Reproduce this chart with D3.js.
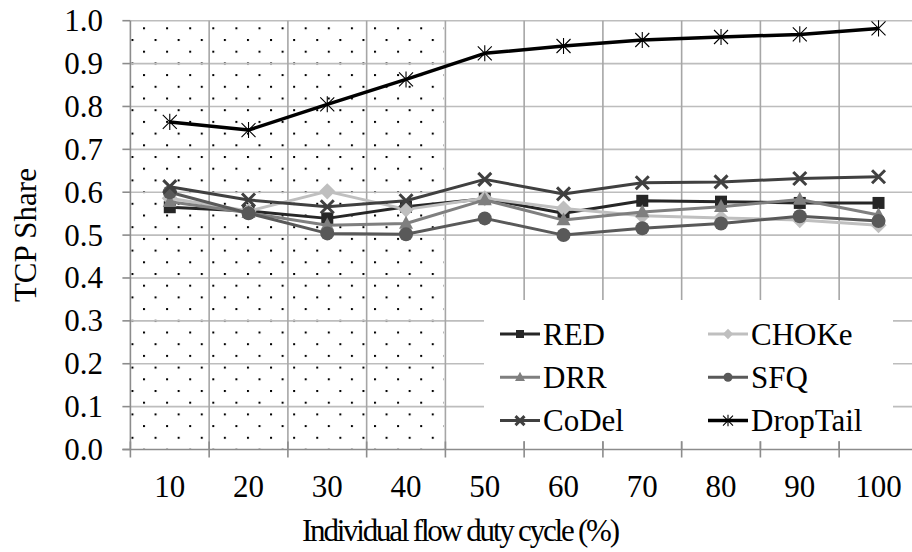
<!DOCTYPE html>
<html>
<head>
<meta charset="utf-8">
<script src="https://cdn.jsdelivr.net/npm/d3@7"></script>
<style>
html,body{margin:0;padding:0;background:#fff;}
svg{display:block;}
</style>
</head>
<body>
<svg id="chart" width="912" height="552"></svg>
<script>
// ---- data ----
const categories = [10, 20, 30, 40, 50, 60, 70, 80, 90, 100];
const RED      = [0.565, 0.556, 0.539, 0.566, 0.585, 0.551, 0.580, 0.578, 0.575, 0.575];
const CHOKe    = [0.586, 0.556, 0.602, 0.560, 0.586, 0.562, 0.545, 0.540, 0.535, 0.523];
const DRR      = [0.578, 0.552, 0.523, 0.527, 0.582, 0.535, 0.554, 0.566, 0.583, 0.547];
const SFQ      = [0.600, 0.551, 0.504, 0.502, 0.539, 0.500, 0.516, 0.527, 0.544, 0.533];
const CoDel    = [0.613, 0.582, 0.566, 0.580, 0.630, 0.596, 0.622, 0.624, 0.632, 0.636];
const DropTail = [0.764, 0.745, 0.805, 0.863, 0.924, 0.941, 0.955, 0.962, 0.968, 0.982];
const yTicks = [0, 0.1, 0.2, 0.3, 0.4, 0.5, 0.6, 0.7, 0.8, 0.9, 1.0];
const shadedCategories = [10, 20, 30, 40];
const yTitle = "TCP Share";
const xTitle = "Individual flow duty cycle (%)";

const series = [
  {name: "RED",      values: RED,      color: "#262626", marker: "square",   width: 3},
  {name: "CHOKe",    values: CHOKe,    color: "#bfbfbf", marker: "diamond",  width: 3},
  {name: "DRR",      values: DRR,      color: "#7f7f7f", marker: "triangle", width: 3},
  {name: "SFQ",      values: SFQ,      color: "#595959", marker: "circle",   width: 3},
  {name: "CoDel",    values: CoDel,    color: "#404040", marker: "x",        width: 3},
  {name: "DropTail", values: DropTail, color: "#000000", marker: "star",     width: 3.5}
];

// ---- layout ----
const FAMILY = '"Liberation Serif"';
const svg = d3.select("#chart");
const pLeft = 130.4, pTop = 20.7, pBottom = 449.5, step = 78.75;
const x = d3.scaleBand().domain(categories).range([pLeft, pLeft + step * categories.length]).padding(0);
const y = d3.scaleLinear().domain([0, 1]).range([pBottom, pTop]);
const FONT = 31;
function txt(sel) { return sel.style("font-family", FAMILY).attr("font-size", FONT).attr("fill", "#000"); }

// dotted pattern
const defs = svg.append("defs");
const pw = 23.1, ph = 23.4;
const pat = defs.append("pattern").attr("id", "dots").attr("patternUnits", "userSpaceOnUse")
  .attr("x", 143).attr("y", 27.3).attr("width", pw).attr("height", ph);
pat.append("rect").attr("x", 0).attr("y", 0).attr("width", 2).attr("height", 2).attr("fill", "#000");
pat.append("rect").attr("x", pw / 2).attr("y", ph / 2).attr("width", 2).attr("height", 2).attr("fill", "#000");

const sx0 = x(shadedCategories[0]);
const sx1 = x(shadedCategories[shadedCategories.length - 1]) + x.bandwidth();
svg.append("rect").attr("x", sx0).attr("y", y(1)).attr("width", sx1 - sx0 - 2).attr("height", y(0) - y(1) - 1)
  .attr("fill", "url(#dots)");

// gridlines
const grid = svg.append("g");
grid.selectAll("line.h").data(yTicks.slice(1)).join("line")
  .attr("x1", pLeft).attr("x2", 912).attr("y1", d => y(d)).attr("y2", d => y(d))
  .attr("stroke", "#bdbdbd").attr("stroke-width", 1.6);
grid.selectAll("line.v").data(categories.slice(1)).join("line")
  .attr("x1", d => x(d)).attr("x2", d => x(d)).attr("y1", y(1)).attr("y2", y(0))
  .attr("stroke", "#a6a6a6").attr("stroke-width", 1.6);

// axes
const axisColor = "#8c8c8c";
svg.append("line").attr("x1", pLeft).attr("x2", pLeft).attr("y1", y(1)).attr("y2", y(0))
  .attr("stroke", axisColor).attr("stroke-width", 1.6);
svg.append("line").attr("x1", pLeft - 8).attr("x2", 912).attr("y1", y(0)).attr("y2", y(0))
  .attr("stroke", axisColor).attr("stroke-width", 1.6);
svg.selectAll("line.yt").data(yTicks).join("line")
  .attr("x1", pLeft - 8).attr("x2", pLeft).attr("y1", d => y(d)).attr("y2", d => y(d))
  .attr("stroke", axisColor).attr("stroke-width", 1.6);
const xBounds = categories.map(c => x(c));
svg.selectAll("line.xt").data(xBounds).join("line")
  .attr("x1", d => d).attr("x2", d => d).attr("y1", y(0) - 8).attr("y2", y(0) + 8)
  .attr("stroke", axisColor).attr("stroke-width", 1.6);

// tick labels
const fmt = d3.format(".1f");
txt(svg.selectAll("text.yl").data(yTicks).join("text"))
  .attr("x", 103).attr("y", d => y(d) + 10.5)
  .attr("text-anchor", "end").text(d => fmt(d));
txt(svg.selectAll("text.xl").data(categories).join("text"))
  .attr("x", d => x(d) + x.bandwidth() / 2).attr("y", 497)
  .attr("text-anchor", "middle").text(d => d);

// axis titles
txt(svg.append("text")).attr("transform", `translate(36,${(y(0) + y(1)) / 2}) rotate(-90)`)
  .attr("text-anchor", "middle").text(yTitle);
txt(svg.append("text")).attr("x", 302).attr("y", 541)
  .attr("textLength", 318).attr("lengthAdjust", "spacing").text(xTitle);

// markers
function markerPath(type, s) {
  const r = s / 2;
  switch (type) {
    case "square": return `M${-r},${-r}H${r}V${r}H${-r}Z`;
    case "diamond": return `M0,${-r * 1.15}L${r * 1.15},0L0,${r * 1.15}L${-r * 1.15},0Z`;
    case "triangle": return `M0,${-r * 1.1}L${r},${r * 0.75}L${-r},${r * 0.75}Z`;
    case "circle": return `M${r},0A${r},${r} 0 1,1 ${-r},0A${r},${r} 0 1,1 ${r},0Z`;
    case "x": return `M${-r},${-r}L${r},${r}M${-r},${r}L${r},${-r}`;
    case "star": return `M${-r},${-r}L${r},${r}M${-r},${r}L${r},${-r}M0,${-r * 1.15}L0,${r * 1.15}`;
  }
}
function drawMarker(g, type, color, s) {
  const p = g.append("path").attr("d", markerPath(type, s));
  if (type === "x") p.attr("fill", "none").attr("stroke", color).attr("stroke-width", 3);
  else if (type === "star") p.attr("fill", "none").attr("stroke", color).attr("stroke-width", 1.1);
  else p.attr("fill", color).attr("stroke", "none");
  return p;
}
const markerSize = {square: 12, diamond: 14, triangle: 14, circle: 14, x: 13, star: 14};

const line = d3.line().x((d, i) => x(categories[i]) + x.bandwidth() / 2).y(d => y(d));
const plot = svg.append("g");
series.forEach(s => {
  const g = plot.append("g");
  g.append("path").attr("d", line(s.values)).attr("fill", "none")
    .attr("stroke", s.color).attr("stroke-width", s.width).attr("stroke-linejoin", "round");
  s.values.forEach((v, i) => {
    const mg = g.append("g").attr("transform", `translate(${x(categories[i]) + x.bandwidth() / 2},${y(v)})`);
    drawMarker(mg, s.marker, s.color, markerSize[s.marker]);
  });
});

// legend
const leg = svg.append("g");
leg.append("rect").attr("x", 484).attr("y", 300).attr("width", 409).attr("height", 141).attr("fill", "#fff");
const legMarkerSize = {square: 8, diamond: 9, triangle: 10, circle: 9, x: 9, star: 10};
series.forEach((s, i) => {
  const col = i % 2, row = Math.floor(i / 2);
  const lx = col === 0 ? 500 : 708;
  const cy = 334 + row * 43.3;
  const g = leg.append("g");
  g.append("line").attr("x1", lx).attr("x2", lx + 40).attr("y1", cy).attr("y2", cy)
    .attr("stroke", s.color).attr("stroke-width", s.width);
  const mg = g.append("g").attr("transform", `translate(${lx + 20},${cy})`);
  drawMarker(mg, s.marker, s.color, legMarkerSize[s.marker]);
  txt(g.append("text")).attr("x", lx + 43).attr("y", cy + 10.5).text(s.name);
});
</script>
</body>
</html>
